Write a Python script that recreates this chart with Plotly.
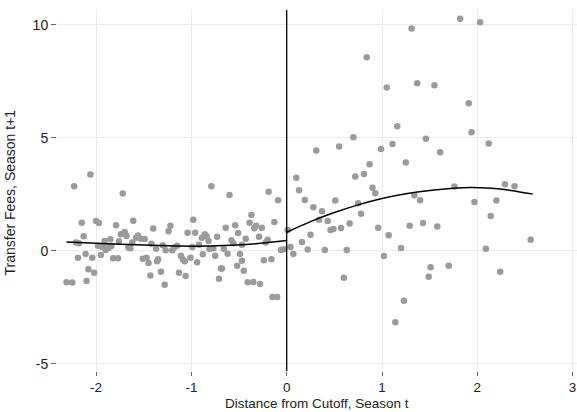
import plotly.graph_objects as go

# Bins left of the cutoff (distance < 0)
left_x = [-2.06, -2.23, -1.72, -2.00, -1.97, -2.15, -1.79, -1.61, -1.40, -1.22,
          -1.24, -2.13, -1.70, -1.74, -1.68, -1.56, -1.58, -1.53, -1.49, -1.85,
          -1.91, -2.21, -2.18, -1.76, -1.62, -1.98, -1.94, -1.89, -1.84, -1.90,
          -1.87, -1.66, -1.64, -1.42, -1.30, -1.37, -1.27, -1.20, -1.18, -2.11,
          -1.95, -2.19, -2.04, -1.82, -1.77, -1.51, -1.47, -1.45, -1.35, -1.36,
          -2.08, -2.02, -1.32, -1.43, -2.31, -2.25, -2.10, -1.28,
          -0.79, -0.60, -0.19, -0.09, -0.37, -0.98, -0.13, -0.39, -0.64, -0.54,
          -0.32, -0.34, -0.26, -1.04, -0.96, -0.51, -0.86, -0.84, -0.89, -0.73,
          -0.29, -0.43, -0.20, -0.22, -0.82, -0.58, -0.56, -1.15, -0.92, -0.99,
          -0.81, -0.77, -0.66, -0.47, -0.06, -0.03, -0.88, -0.75, -0.62, -0.49,
          -1.11, -1.09, -1.07, -1.01, -0.47, -0.24, -0.16, -0.94, -0.52, -0.69,
          -0.68, -0.45, -1.13, -1.06, -0.71, -0.41, -0.35, -0.28, -0.15, -0.10]
left_y = [3.38, 2.86, 2.54, 1.33, 1.24, 1.25, 1.14, 1.34, 0.99, 1.12,
          0.87, 0.65, 0.84, 0.74, 0.66, 0.68, 0.59, 0.54, 0.53, 0.52,
          0.44, 0.37, 0.34, 0.43, 0.38, 0.23, 0.19, 0.21, 0.22, 0.04,
          0.12, 0.15, 0.12, 0.32, 0.25, 0.10, 0.03, 0.03, 0.15, -0.13,
          -0.18, -0.30, -0.30, -0.32, -0.32, -0.34, -0.30, -0.53, -0.37, -0.46,
          -0.81, -0.96, -0.92, -1.09, -1.38, -1.40, -1.33, -1.49,
          2.86, 2.48, 2.62, 2.24, 1.59, 1.38, 1.28, 1.25, 1.03, 1.14,
          1.12, 1.00, 1.03, 0.81, 0.81, 0.80, 0.74, 0.65, 0.59, 0.63,
          0.63, 0.54, 0.50, 0.38, 0.44, 0.47, 0.34, 0.23, 0.27, 0.18,
          0.09, 0.12, 0.10, 0.27, 0.04, 0.08, -0.15, -0.21, -0.12, -0.13,
          -0.21, -0.37, -0.46, -0.30, -0.43, -0.41, -0.37, -0.50, -0.65, -0.78,
          -0.78, -0.88, -0.96, -1.11, -1.23, -1.38, -1.37, -1.46, -2.04, -2.04]

# Bins right of the cutoff (distance >= 0)
right_x = [0.01, 0.04, 0.07, 0.10, 0.13, 0.16, 0.19, 0.22, 0.25, 0.28,
           0.31, 0.34, 0.37, 0.40, 0.43, 0.46, 0.49, 0.51, 0.55, 0.57,
           0.60, 0.63, 0.66, 0.70, 0.72, 0.75, 0.78, 0.81, 0.84, 0.87,
           0.90, 0.93, 0.96, 0.99, 1.02, 1.05, 1.07, 1.11, 1.14, 1.16,
           1.20, 1.23, 1.25, 1.29, 1.31, 1.34, 1.37, 1.40, 1.43, 1.46,
           1.51, 1.49, 1.55, 1.58, 1.61, 1.70, 1.76, 1.82, 1.91, 1.94,
           1.97, 2.03, 2.09, 2.12, 2.14, 2.20, 2.24, 2.29, 2.39, 2.56]
right_y = [0.93, 0.18, -0.13, 3.24, 2.69, 0.40, 2.26, 0.06, 0.72, 1.93,
           4.44, 1.38, 1.76, 0.04, 1.33, 0.93, 0.97, 2.23, 4.62, 1.02,
           -1.18, 0.04, 1.21, 5.03, 3.29, 2.11, 1.65, 3.41, 8.57, 3.84,
           2.80, 2.55, 1.03, 4.51, -0.22, 7.23, 0.69, 4.73, -3.15, 5.52,
           0.13, -2.20, 3.91, 1.12, 9.84, 2.46, 7.42, 2.24, 1.24, 4.96,
           -0.72, -1.14, 7.33, 1.08, 4.37, -0.65, 2.85, 10.27, 6.54, 5.25,
           2.17, 10.12, 0.10, 4.75, 1.55, 2.23, -0.92, 2.95, 2.86, 0.50]

# Fitted polynomial on each side of the cutoff
fit_left_x = [-2.31, -2.0, -1.5, -1.17, -1.0, -0.6, -0.3, 0.0]
fit_left_y = [0.40, 0.34, 0.26, 0.22, 0.21, 0.25, 0.33, 0.46]
fit_right_x = [0.0, 0.25, 0.5, 0.75, 1.0, 1.25, 1.5, 1.75, 1.93, 2.15, 2.35, 2.58]
fit_right_y = [0.83, 1.30, 1.70, 2.04, 2.32, 2.53, 2.68, 2.78, 2.81, 2.77, 2.68, 2.52]

cutoff = 0
x_ticks = [-2, -1, 0, 1, 2, 3]
x_tick_text = ["-2", "-1", "0", "1", "2", "3"]
y_ticks = [-5, 0, 5, 10]
y_tick_text = ["-5", "0", "5", "10"]

FONT = "Liberation Sans, Arial, sans-serif"
DOT = "#9b9b9b"

fig = go.Figure()
fig.add_trace(go.Scatter(x=left_x + right_x, y=left_y + right_y, mode="markers",
                         marker=dict(color=DOT, size=6.5, line=dict(width=0)),
                         hoverinfo="x+y"))
fig.add_trace(go.Scatter(x=fit_left_x, y=fit_left_y, mode="lines",
                         line=dict(color="black", width=1.5, shape="spline")))
fig.add_trace(go.Scatter(x=fit_right_x, y=fit_right_y, mode="lines",
                         line=dict(color="black", width=1.5, shape="spline")))
fig.add_vline(x=cutoff, line=dict(color="black", width=1.3), layer="above")

# Axis titles placed as annotations relative to the plot area
fig.add_annotation(text="Distance from Cutoff, Season t", xref="paper", yref="paper",
                   x=0.5, y=-41 / 361, xanchor="center", yanchor="bottom",
                   showarrow=False, borderpad=0, font=dict(size=13.5))
fig.add_annotation(text="Transfer Fees, Season t+1", xref="paper", yref="paper",
                   x=-0.09, y=0.495, xanchor="center", yanchor="middle",
                   textangle=-90, showarrow=False, font=dict(size=14))

fig.update_layout(
    width=577, height=412,
    margin=dict(l=57, r=0, t=10, b=41),
    paper_bgcolor="white", plot_bgcolor="white",
    showlegend=False,
    font=dict(family=FONT, size=14, color="#222"),
    xaxis=dict(range=[-2.41, 3.046], tickvals=x_ticks, ticktext=x_tick_text,
               ticks="outside", ticklen=4, tickcolor="#666", tickwidth=1,
               tickfont=dict(size=13.5),
               showgrid=True, gridcolor="#ebebeb", gridwidth=1,
               zeroline=False, showline=False, automargin=False),
    yaxis=dict(range=[-5.31, 10.66], tickvals=y_ticks, ticktext=y_tick_text,
               ticks="outside", ticklen=5, tickcolor="#666", tickwidth=1,
               showgrid=True, gridcolor="#ebebeb", gridwidth=1,
               zeroline=False, showline=False, automargin=False),
)

fig.write_html("out.html")
